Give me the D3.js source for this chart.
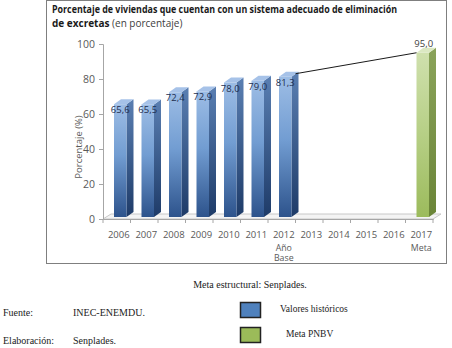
<!DOCTYPE html>
<html><head><meta charset="utf-8">
<script src="https://cdn.jsdelivr.net/npm/d3@7"></script>
<style>body{margin:0;background:#fff}svg{display:block}</style>
</head><body>
<script>
const years = ["2006","2007","2008","2009","2010","2011","2012","2013","2014","2015","2016","2017"];
const yearSub = {"2012":["Año","Base"],"2017":["Meta"]};
const histYears = ["2006","2007","2008","2009","2010","2011","2012"];
const histValues = [65.6,65.5,72.4,72.9,78.0,79.0,81.3];
const metaYears = ["2017"];
const metaValues = [95.0];
const yTicks = [0,20,40,60,80,100];
const fmt = v => v.toFixed(1).replace(".", ",");

const W=452,H=348;
const svg=d3.select("body").append("svg").attr("width",W).attr("height",H);
const defs=svg.append("defs");
function grad(id,stops,x2,y2){const g=defs.append("linearGradient").attr("id",id).attr("x1",0).attr("y1",0).attr("x2",x2).attr("y2",y2);
 stops.forEach(s=>g.append("stop").attr("offset",s[0]).attr("stop-color",s[1]));}
grad("bFront",[[0,"#9dbde5"],[0.45,"#729dd2"],[1,"#2d538c"]],0,1);
grad("bSide",[[0,"#5a7fb2"],[1,"#1e3b68"]],0,1);
grad("gFront",[[0,"#cfe0ad"],[0.5,"#b6cf85"],[1,"#9cbb5c"]],0,1);
grad("gSide",[[0,"#8aa35a"],[1,"#6b8538"]],0,1);

// frame
svg.append("rect").attr("x",46.5).attr("y",0.5).attr("width",400).attr("height",263).attr("fill","none").attr("stroke","#7f7f7f").attr("stroke-width",1);

// title
svg.append("text").attr("x",52).attr("y",13).attr("font-family","'Open Sans', sans-serif").attr("font-size",10).attr("font-weight","bold").attr("fill","#1a1a1a")
 .attr("textLength",345).attr("lengthAdjust","spacingAndGlyphs")
 .text("Porcentaje de viviendas que cuentan con un sistema adecuado de eliminación");
const t2=svg.append("text").attr("x",52).attr("y",27).attr("font-family","'Open Sans', sans-serif").attr("font-size",10).attr("fill","#1a1a1a");
t2.append("tspan").attr("font-weight","bold").text("de excretas");
t2.append("tspan").attr("fill","#404040").text(" (en porcentaje)");

const x=d3.scaleBand().domain(years).range([103,433]).padding(0);
const y=d3.scaleLinear().domain([0,100]).range([219,44]);
const dx=7, dy=5;

// floor
const x0=103,x1=433,yb=219;
svg.append("path").attr("d",`M${x0},${yb}L${x1},${yb}L${x1+dx+1},${yb-dy}L${x0+dx+1},${yb-dy}Z`).attr("fill","#f4f4f4").attr("stroke","#c8c8c8").attr("stroke-width",1);

// y axis
const ya=svg.append("g").attr("transform","translate(103,0)").call(d3.axisLeft(y).tickValues(yTicks).tickSize(4).tickPadding(4));
ya.select(".domain").attr("stroke","#a6a6a6");
ya.selectAll(".tick line").attr("stroke","#a6a6a6");
ya.selectAll("text").attr("font-family","'Open Sans', sans-serif").attr("font-size",10.5).attr("fill","#595959");

// x axis
const xa=svg.append("g").attr("transform",`translate(0,${yb})`).call(d3.axisBottom(x).tickSize(0).tickFormat(""));
xa.select(".domain").attr("stroke","#a6a6a6");
xa.selectAll(".tick").remove();
svg.append("g").selectAll("line").data(years.concat(["end"])).join("line")
 .attr("x1",(d,i)=>x.range()[0]+i*x.step()).attr("x2",(d,i)=>x.range()[0]+i*x.step())
 .attr("y1",yb).attr("y2",yb+4).attr("stroke","#a6a6a6");
const xl=svg.append("g").attr("font-family","'Open Sans', sans-serif").attr("font-size",9.5).attr("fill","#595959").attr("text-anchor","middle");
years.forEach(yr=>{
 const cx=x(yr)+x.bandwidth()/2+2;
 xl.append("text").attr("x",cx).attr("y",238).text(yr);
 (yearSub[yr]||[]).forEach((s,i)=>xl.append("text").attr("x",cx).attr("y",250.5+i*10.5).attr("font-size",8.8).text(s));
});

// axis title
svg.append("text").attr("transform","translate(82,147) rotate(-90)").attr("text-anchor","middle")
 .attr("font-family","'Open Sans', sans-serif").attr("font-size",9.5).attr("fill","#595959").text("Porcentaje (%)");

function bars(yrs,vals,front,side,top,labelFill,labelInside){
 const g=svg.append("g");
 yrs.forEach((yr,i)=>{
  const v=vals[i];
  const fx0=x(yr)+11, fx1=fx0+12.5, ty=y(v), by=yb-2;
  g.append("path").attr("d",`M${fx1},${ty}L${fx1+dx},${ty-dy}L${fx1+dx},${by-dy}L${fx1},${by}Z`).attr("fill",side);
  g.append("rect").attr("x",fx0).attr("y",ty).attr("width",fx1-fx0).attr("height",by-ty).attr("fill",front);
  g.append("path").attr("d",`M${fx0},${ty}L${fx1},${ty}L${fx1+dx},${ty-dy}L${fx0+dx},${ty-dy}Z`).attr("fill",top);
  g.append("text").attr("x",(fx0+fx1)/2+ (labelInside?0:1)).attr("y",labelInside?ty+9:ty-6).attr("text-anchor","middle")
   .attr("font-family","'Open Sans', sans-serif").attr("font-size",9.5).attr("fill",labelFill).text(fmt(v));
 });
}
bars(histYears,histValues,"url(#bFront)","url(#bSide)","#a6c2e8","#1f2f4f",true);
bars(metaYears,metaValues,"url(#gFront)","url(#gSide)","#dbe8c2","#404040",false);

// connector line
const lastY=histYears[histYears.length-1], lastV=histValues[histValues.length-1];
svg.append("line").attr("x1",x(lastY)+11+12.5+4).attr("y1",y(lastV)-3)
 .attr("x2",x(metaYears[0])+11).attr("y2",y(metaValues[0])).attr("stroke","#1a1a1a").attr("stroke-width",1);

// notes below
const serif="'Liberation Serif', 'Times New Roman', serif";
svg.append("text").attr("x",250).attr("y",288).attr("text-anchor","middle").attr("font-family",serif).attr("font-size",10).attr("fill","#222").text("Meta estructural: Senplades.");
svg.append("text").attr("x",3).attr("y",316).attr("font-family",serif).attr("font-size",10).attr("fill","#222").text("Fuente:");
svg.append("text").attr("x",73).attr("y",316).attr("font-family",serif).attr("font-size",10).attr("fill","#222").text("INEC-ENEMDU.");
svg.append("text").attr("x",3).attr("y",344).attr("font-family",serif).attr("font-size",10).attr("fill","#222").text("Elaboración:");
svg.append("text").attr("x",73).attr("y",344).attr("font-family",serif).attr("font-size",10).attr("fill","#222").text("Senplades.");
const legend=[{label:"Valores históricos",color:"#4f81bd",y:302,tx:280},{label:"Meta PNBV",color:"#9bbb59",y:327,tx:286}];
legend.forEach(l=>{
 svg.append("rect").attr("x",240.5).attr("y",l.y+0.5).attr("width",20).attr("height",15).attr("fill",l.color).attr("stroke","#222").attr("stroke-width",1.5);
 svg.append("text").attr("x",l.tx).attr("y",l.y+10).attr("font-family",serif).attr("font-size",9.5).attr("fill","#222").text(l.label);
});
</script>
</body></html>
